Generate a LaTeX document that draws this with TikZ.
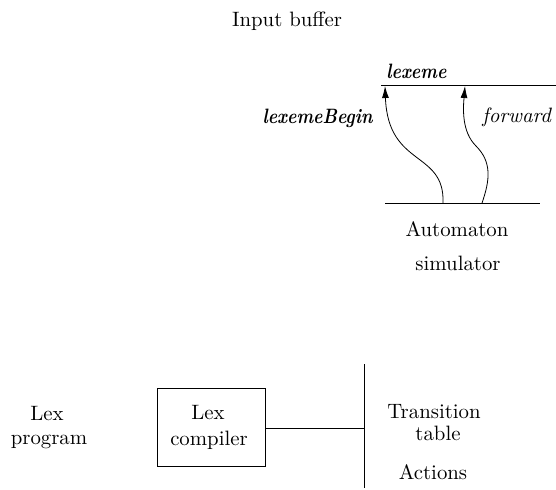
\documentclass[tikz,border=0pt]{standalone}
\usetikzlibrary{arrows.meta}
\newcommand{\narrowbi}[1]{\scalebox{0.85}[1]{\bfseries\itshape #1}}
\tikzset{
  txt/.style={inner sep=0pt, font=\fontsize{10.4}{12.5}\selectfont},
  ptr/.style={-{Latex[length=6pt,width=3.5pt]}, thin},
}
\begin{document}
\begin{tikzpicture}[x=0.5pt, y=-0.5pt]
  \useasboundingbox (0,0) rectangle (556,489);
  % Input buffer
  \node[txt] (inbuf) at (287,21) {Input buffer};
  \draw (381,85) coordinate (topL) -- (556,85) coordinate (topR);
  \node[txt, anchor=west] (lexeme) at (386,71) {\narrowbi{lexeme}};
  \node[txt, anchor=east] (lbLabel) at (373,118) {\narrowbi{lexemeBegin}};
  \node[txt, anchor=west] (fwLabel) at (482,117) {\itshape forward};
  % Automaton simulator
  \draw (385,203) coordinate (botL) -- (540,203) coordinate (botR);
  \node[txt] (autom) at (457,229) {Automaton};
  \node[txt] (simul) at (458,263) {simulator};
  % pointers
  \coordinate (lbFoot) at (443,203);
  \coordinate (lbTip) at (385,86);
  \coordinate (fwFoot) at (482,203);
  \coordinate (fwTip) at (465,86);
  \draw[ptr] (lbFoot) .. controls (445,150) and (388,168) .. (lbTip);
  \draw[ptr] (fwFoot) .. controls (490,180) and (492,162) .. (476,146)
    .. controls (462,132) and (463,110) .. (fwTip);

  % Lex compiler
  \node[txt] (lexA) at (47,413) {Lex};
  \node[txt] (lexprog) at (49,442) {program};
  \node[draw, minimum width=108*0.5pt, minimum height=78*0.5pt]
    (lexcomp) at (211,427) {};
  \node[txt] (lexB) at (208,412) {Lex};
  \node[txt] (compiler) at (209,440) {compiler};
  \draw (364,364) coordinate (outTop) -- (364,488) coordinate (outBot);
  \coordinate (outMid) at (364,428);
  \draw (lexcomp.east |- outMid) -- (outMid);
  \node[txt] (trans) at (434,412) {Transition};
  \node[txt] (table) at (438,433) {table};
  \node[txt] (actions) at (433,472) {Actions};
\end{tikzpicture}
\end{document}
